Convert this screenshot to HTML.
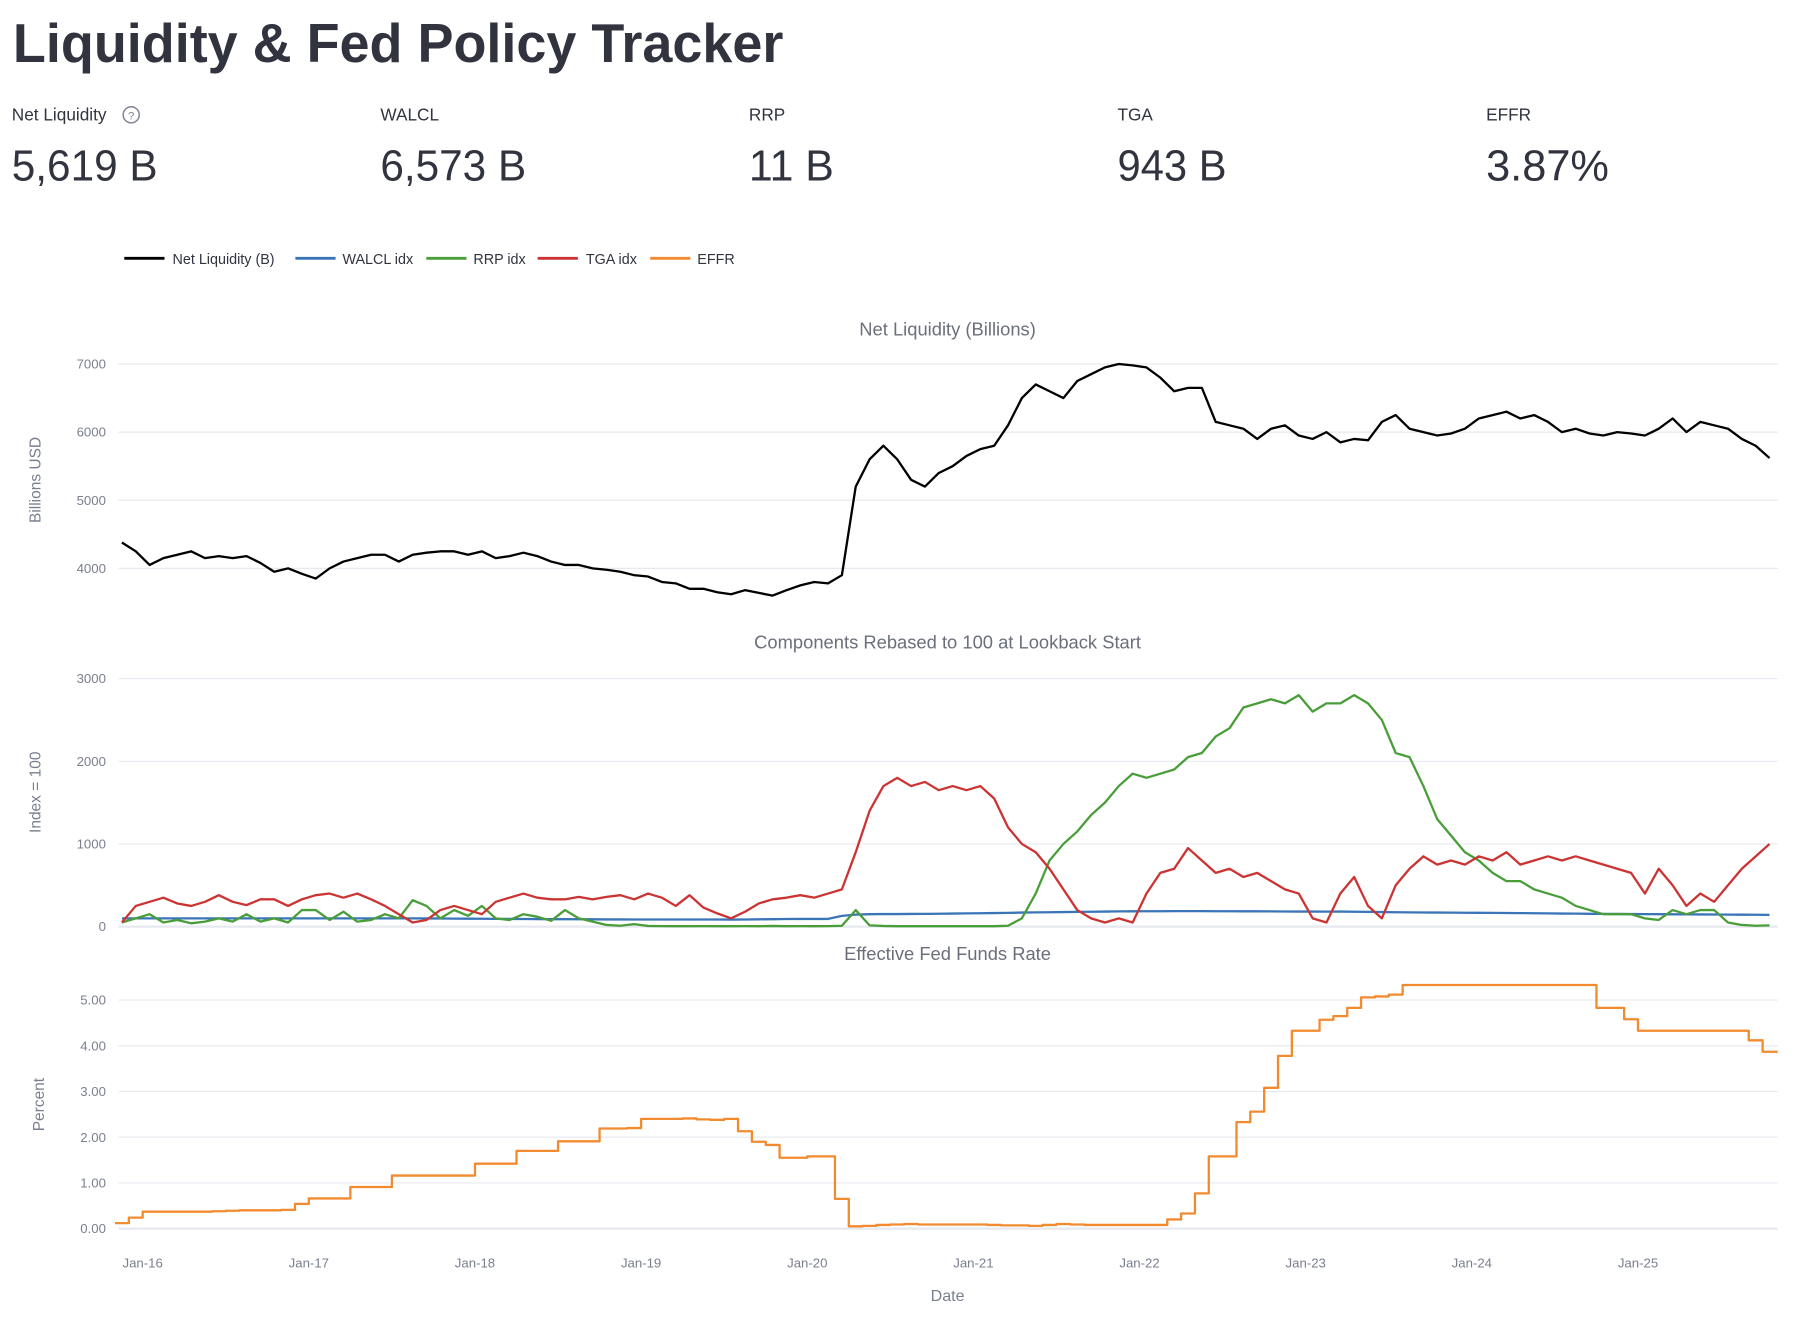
<!DOCTYPE html>
<html><head><meta charset="utf-8"><title>Liquidity &amp; Fed Policy Tracker</title>
<style>
html,body{margin:0;padding:0;background:#fff;}
svg{display:block;font-family:"Liberation Sans",sans-serif;}
</style></head>
<body>
<svg id="root" width="1801" height="1317" viewBox="0 0 1568 1147" xmlns="http://www.w3.org/2000/svg">
<text x="11" y="54" font-size="48" font-weight="bold" fill="#31333f" textLength="671" lengthAdjust="spacingAndGlyphs">Liquidity &amp; Fed Policy Tracker</text>

<g>
<text x="10" y="105" font-size="15" fill="#31333f">Net Liquidity</text>
<g><circle cx="114" cy="100" r="7" fill="none" stroke="#808495" stroke-width="1.3"/><text x="114" y="104" font-size="10" text-anchor="middle" fill="#808495">?</text></g>
<text x="10" y="157" font-size="38" fill="#31333f" textLength="127" lengthAdjust="spacingAndGlyphs">5,619 B</text></g>
<g>
<text x="331" y="105" font-size="15" fill="#31333f">WALCL</text>
<text x="331" y="157" font-size="38" fill="#31333f" textLength="127" lengthAdjust="spacingAndGlyphs">6,573 B</text></g>
<g>
<text x="652" y="105" font-size="15" fill="#31333f">RRP</text>
<text x="652" y="157" font-size="38" fill="#31333f" textLength="74" lengthAdjust="spacingAndGlyphs">11 B</text></g>
<g>
<text x="973" y="105" font-size="15" fill="#31333f">TGA</text>
<text x="973" y="157" font-size="38" fill="#31333f" textLength="95" lengthAdjust="spacingAndGlyphs">943 B</text></g>
<g>
<text x="1294" y="105" font-size="15" fill="#31333f">EFFR</text>
<text x="1294" y="157" font-size="38" fill="#31333f" textLength="107" lengthAdjust="spacingAndGlyphs">3.87%</text></g>

<g id="legend" font-size="12.5" fill="#31333f">
<g><line x1="108" y1="225" x2="143" y2="225" stroke="#000" stroke-width="2.5"/><text x="150" y="230">Net Liquidity (B)</text></g>
<g><line x1="257" y1="225" x2="292" y2="225" stroke="#3a75b8" stroke-width="2.5"/><text x="298" y="230">WALCL idx</text></g>
<g><line x1="371" y1="225" x2="406" y2="225" stroke="#4a9e3a" stroke-width="2.5"/><text x="412" y="230">RRP idx</text></g>
<g><line x1="468" y1="225" x2="503" y2="225" stroke="#cc3333" stroke-width="2.5"/><text x="510" y="230">TGA idx</text></g>
<g><line x1="566" y1="225" x2="601" y2="225" stroke="#f28a30" stroke-width="2.5"/><text x="607" y="230">EFFR</text></g>
</g>

<g id="charts"></g>
</svg>
<script>
// Monthly data, starting Nov 2015
const startYear = 2015, startMonth = 11;
const netLiquidity = [4380,4250,
4050,4150,4200,4250,4150,4180,4150,4180,4080,3950,4000,3920,
3850,4000,4100,4150,4200,4200,4100,4200,4230,4250,4250,4200,
4250,4150,4180,4230,4180,4100,4050,4050,4000,3980,3950,3900,
3880,3800,3780,3700,3700,3650,3620,3680,3640,3600,3680,3750,
3800,3780,3900,5200,5600,5800,5600,5300,5200,5400,5500,5650,
5750,5800,6100,6500,6700,6600,6500,6750,6850,6950,7000,6980,
6950,6800,6600,6650,6650,6150,6100,6050,5900,6050,6100,5950,
5900,6000,5850,5900,5880,6150,6250,6050,6000,5950,5980,6050,
6200,6250,6300,6200,6250,6150,6000,6050,5980,5950,6000,5980,
5950,6050,6200,6000,6150,6100,6050,5900,5800,5619];
const walclIdx = [100,100,
100,100,100,100,100,100,100,100,100,100,100,100,
100,100,100,100,100,100,100,100,99,98,97,96,
95,94,93,92,91,90,90,89,88,87,87,86,
86,86,86,86,86,86,85,86,88,90,92,93,
93,93,130,145,150,152,152,153,154,156,158,160,
162,164,166,170,172,174,176,178,180,182,184,185,
186,186,187,187,187,186,186,185,185,184,183,182,
182,181,182,180,178,176,174,172,171,170,169,168,
167,166,165,163,162,160,158,157,155,154,153,152,
151,150,149,148,147,146,145,144,143,142];
const rrpIdx = [50,100,
150,50,80,40,60,100,60,150,60,100,50,200,
200,80,180,60,80,150,100,320,250,100,200,130,
250,100,80,150,120,70,200,100,60,20,10,30,
8,6,5,5,6,5,5,6,5,8,5,6,
5,6,10,200,15,8,5,5,5,5,5,5,
5,5,10,100,400,800,1000,1150,1350,1500,1700,1850,
1800,1850,1900,2050,2100,2300,2400,2650,2700,2750,2700,2800,
2600,2700,2700,2800,2700,2500,2100,2050,1700,1300,1100,900,
800,650,550,550,450,400,350,250,200,150,150,150,
100,80,200,150,200,200,50,20,10,15];
const tgaIdx = [50,250,
300,350,280,250,300,380,300,260,330,330,250,330,
380,400,350,400,330,250,150,50,80,200,250,200,
150,300,350,400,350,330,330,360,330,360,380,330,
400,350,250,380,230,160,100,180,280,330,350,380,
350,400,450,900,1400,1700,1800,1700,1750,1650,1700,1650,
1700,1550,1200,1000,900,700,450,200,100,50,100,50,
400,650,700,950,800,650,700,600,650,550,450,400,
100,50,400,600,250,100,500,700,850,750,800,750,
850,800,900,750,800,850,800,850,800,750,700,650,
400,700,500,250,400,300,500,700,850,1000];
const effr = [0.12,0.24,
0.37,0.37,0.37,0.37,0.37,0.38,0.39,0.40,0.40,0.40,0.41,0.54,
0.66,0.66,0.66,0.91,0.91,0.91,1.16,1.16,1.16,1.16,1.16,1.16,
1.42,1.42,1.42,1.70,1.70,1.70,1.91,1.91,1.91,2.19,2.19,2.20,
2.40,2.40,2.40,2.41,2.39,2.38,2.40,2.13,1.90,1.83,1.55,1.55,
1.58,1.58,0.65,0.05,0.06,0.08,0.09,0.10,0.09,0.09,0.09,0.09,
0.09,0.08,0.07,0.07,0.06,0.08,0.10,0.09,0.08,0.08,0.08,0.08,
0.08,0.08,0.20,0.33,0.77,1.58,1.58,2.33,2.56,3.08,3.78,4.33,
4.33,4.57,4.65,4.83,5.06,5.08,5.12,5.33,5.33,5.33,5.33,5.33,
5.33,5.33,5.33,5.33,5.33,5.33,5.33,5.33,5.33,4.83,4.83,4.58,
4.33,4.33,4.33,4.33,4.33,4.33,4.33,4.33,4.12,3.87];
const xTickLabels = ["Jan-16","Jan-17","Jan-18","Jan-19","Jan-20","Jan-21","Jan-22","Jan-23","Jan-24","Jan-25"];
const nlTicks = [4000,5000,6000,7000];
const idxTicks = [0,1000,2000,3000];
const effrTicks = [0,1,2,3,4,5];

const NS = "http://www.w3.org/2000/svg";
const root = document.getElementById("charts");
const X0 = 103, X1 = 1548;
function xs(t){ return 124 + (t - 2016) * 144.7; }
function tAt(i){ const m = startMonth - 1 + i; return startYear + Math.floor(m/12) + ((m%12) + 0.5)/12; }
function mk(tag, attrs, parent){ const e = document.createElementNS(NS, tag); for (const k in attrs) e.setAttribute(k, attrs[k]); (parent||root).appendChild(e); return e; }

const panels = [
 {title:"Net Liquidity (Billions)", ty:292, ylab:"Billions USD", ylx:35, yly:418, y:v=>495-(v-4000)*0.05933, ticks:nlTicks, fmt:v=>String(v), name:"net-liquidity-chart"},
 {title:"Components Rebased to 100 at Lookback Start", ty:565, ylab:"Index = 100", ylx:35, yly:690, y:v=>807-v*0.072, ticks:idxTicks, fmt:v=>String(v), name:"components-chart"},
 {title:"Effective Fed Funds Rate", ty:836, ylab:"Percent", ylx:38, yly:962, y:v=>1070-v*39.8, ticks:effrTicks, fmt:v=>v.toFixed(2), name:"effr-chart"}
];

panels.forEach(p=>{
  const g = mk("g", {});
  
  
  p.g = g;
  const t = mk("text", {x:825, y:p.ty, "font-size":16, fill:"#6b6f7c", "text-anchor":"middle"}, g);
  t.textContent = p.title;
  
  
  const yl = mk("text", {x:p.ylx, y:p.yly, "font-size":13.5, fill:"#7a7f8f", "text-anchor":"middle", transform:`rotate(-90 ${p.ylx} ${p.yly})`}, g);
  yl.textContent = p.ylab;
  
  
  p.ticks.forEach(v=>{
    const yy = p.y(v);
    const gl = mk("line", {x1:X0, x2:X1, y1:yy, y2:yy, stroke:"#e6e9ef", "stroke-width": v===0?2:1}, g);
    
    
    const tl = mk("text", {x:92, y:yy+4, "font-size":11.5, fill:"#7a7f8f", "text-anchor":"end"}, g);
    tl.textContent = p.fmt(v);
    
    
  });
});

function drawLine(panel, data, color, name, step){
  let d = "";
  data.forEach((v,i)=>{
    const x = xs(tAt(i) - (step ? 0.5/12 : 0)), y = panel.y(v);
    if (i===0) d += `M${x},${y}`;
    else if (step) d += `H${x}V${y}`;
    else d += `L${x},${y}`;
  });
  if (step) d += `H${X1}`;
  const path = mk("path", {d:d, fill:"none", stroke:color, "stroke-width":2, "stroke-linejoin":"round"}, panel.g);
  
  
}
drawLine(panels[0], netLiquidity, "#000000", "net-liquidity-line", false);
drawLine(panels[1], walclIdx, "#3a75b8", "walcl-idx-line", false);
drawLine(panels[1], rrpIdx, "#4a9e3a", "rrp-idx-line", false);
drawLine(panels[1], tgaIdx, "#cc3333", "tga-idx-line", false);
drawLine(panels[2], effr, "#f28a30", "effr-line", true);

xTickLabels.forEach((lab,i)=>{
  const tx = mk("text", {x:xs(2016+i), y:1104, "font-size":11.5, fill:"#7a7f8f", "text-anchor":"middle"});
  tx.textContent = lab;
  
  
});
const xt = mk("text", {x:825, y:1133, "font-size":14, fill:"#7a7f8f", "text-anchor":"middle"});
xt.textContent = "Date";


</script>
</body></html>
